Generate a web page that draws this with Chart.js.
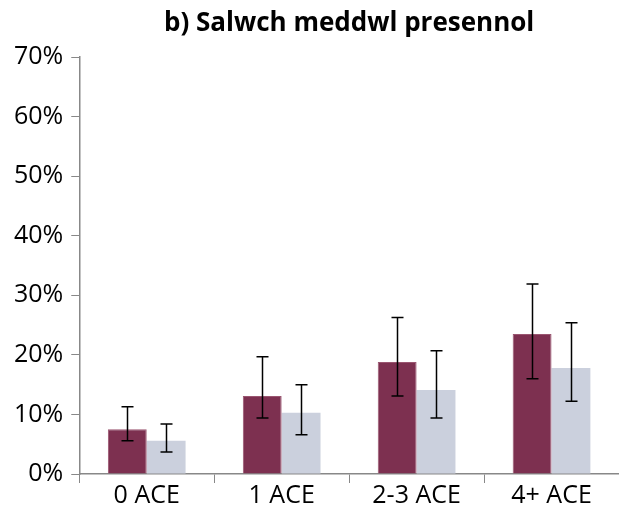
<!DOCTYPE html>
<html>
<head>
<meta charset="utf-8">
<script src="https://cdn.jsdelivr.net/npm/chart.js@4"></script>
<style>
html,body{margin:0;padding:0;background:#fff;}
#wrap{width:619px;height:508px;}
</style>
</head>
<body>
<div id="wrap"><canvas id="c" width="619" height="508"></canvas></div>
<script>
const categories = ["0 ACE", "1 ACE", "2-3 ACE", "4+ ACE"];
const series1 = [7.5, 13.1, 18.8, 23.5];
const series1Low = [5.6, 9.4, 13.1, 16.0];
const series1High = [11.3, 19.7, 26.3, 31.9];
const series2 = [5.6, 10.3, 14.1, 17.8];
const series2Low = [3.7, 6.6, 9.4, 12.2];
const series2High = [8.4, 15.0, 20.7, 25.4];
const yTicks = [0, 10, 20, 30, 40, 50, 60, 70];
const titleText = "b) Salwch meddwl presennol";

const errorBars = {
  id: 'errorBars',
  afterDatasetsDraw(chart) {
    const ctx = chart.ctx;
    const y = chart.scales.y;
    const sets = [[series1Low, series1High], [series2Low, series2High]];
    ctx.save();
    ctx.strokeStyle = '#000';
    ctx.lineWidth = 1.5;
    sets.forEach((s, di) => {
      const meta = chart.getDatasetMeta(di);
      meta.data.forEach((bar, i) => {
        const x = Math.round(bar.x) + 0.5;
        const yl = y.getPixelForValue(s[0][i]);
        const yh = y.getPixelForValue(s[1][i]);
        const w = 6;
        ctx.beginPath();
        ctx.moveTo(x, yl); ctx.lineTo(x, yh);
        ctx.moveTo(x - w, yl); ctx.lineTo(x + w, yl);
        ctx.moveTo(x - w, yh); ctx.lineTo(x + w, yh);
        ctx.stroke();
      });
    });
    ctx.restore();
  }
};

new Chart(document.getElementById('c'), {
  type: 'bar',
  data: {
    labels: categories,
    datasets: [
      { data: series1, backgroundColor: '#7D3050', borderColor: '#9A5570', borderWidth: {top:1,left:1,right:1,bottom:0} },
      { data: series2, backgroundColor: '#CBD0DD', borderWidth: 0 }
    ]
  },
  options: {
    responsive: false,
    animation: false,
    devicePixelRatio: 1,
    layout: { padding: { left: 6, right: 0, top: 8, bottom: 0 } },
    datasets: { bar: { categoryPercentage: 0.576, barPercentage: 1.0 } },
    plugins: {
      legend: { display: false },
      tooltip: { enabled: false },
      title: {
        display: true, text: titleText, fullSize: false,
        color: '#000',
        font: { family: 'Open Sans', size: 26, weight: 'bold' },
        padding: { top: 0, bottom: 18 }
      }
    },
    scales: {
      x: {
        grid: { offset: true, drawOnChartArea: false, color: '#888', tickLength: 9, tickColor: '#888' },
        border: { color: '#888', width: 1.5 },
        ticks: { color: '#000', font: { family: 'Open Sans', size: 25, lineHeight: 1.0 }, padding: 0 }
      },
      y: {
        min: 0, max: 70,
        afterBuildTicks(axis) { axis.ticks = yTicks.map(v => ({ value: v })); },
        grid: { drawOnChartArea: false, color: '#888', tickLength: 8, tickColor: '#888' },
        border: { color: '#888', width: 1.5 },
        ticks: { color: '#000', font: { family: 'Open Sans', size: 25 }, padding: 8, callback: v => v + '%' }
      }
    }
  },
  plugins: [errorBars]
});
</script>
</body>
</html>
